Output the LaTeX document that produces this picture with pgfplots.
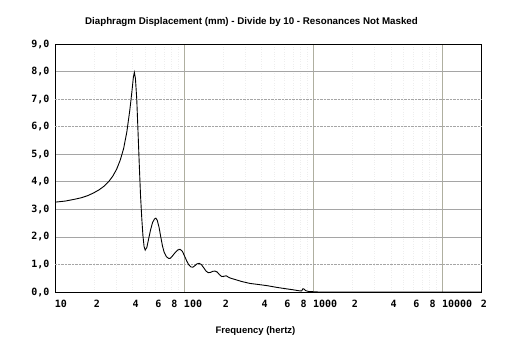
\documentclass[border=0pt]{standalone}
\usepackage{pgfplots}
\pgfplotsset{compat=1.18}
\usepackage{fontspec}
\setmainfont{Liberation Sans}
\newfontfamily\tickfont{DejaVu Sans Mono}
\definecolor{gridgray}{RGB}{165,165,165}
\definecolor{vgrid}{RGB}{175,175,160}
\definecolor{pinkdot}{RGB}{195,175,190}
\begin{document}
\begin{tikzpicture}
\path[use as bounding box, fill=white] (0pt,0pt) rectangle (511pt,352pt);
\node[font=\fontsize{9.75}{11}\selectfont\bfseries] at (251.5pt,330pt) {Diaphragm Displacement (mm) - Divide by 10 - Resonances Not Masked};
\node[font=\fontsize{9.5}{11}\selectfont\bfseries] at (255.5pt,21pt) {Frequency (hertz)};
\begin{axis}[
  at={(55pt,60pt)}, anchor=south west,
  scale only axis, width=426pt, height=248pt,
  xmode=log, xmin=10, xmax=20000, ymin=0, ymax=9,
  axis line style={black, line width=0.8pt},
  major tick length=0pt, minor tick length=0pt,
  xtick={10,100,1000,10000}, xticklabels={10,100,1000,10000},
  extra x ticks={20,40,60,80,200,400,600,800,2000,4000,6000,8000,20000},
  extra x tick labels={2,4,6,8,2,4,6,8,2,4,6,8,2},
  extra x tick style={grid=none},
  minor xtick={20,30,40,50,60,70,80,90,200,300,400,500,600,700,800,900,2000,3000,4000,5000,6000,7000,8000,9000},
  xmajorgrids, xminorgrids,
  major x grid style={vgrid, line width=0.7pt},
  minor x grid style={gray!13, dotted, line width=0.6pt},
  ytick={0,2,3,4,5,8,9},
  extra y ticks={1,6,7},
  extra y tick style={grid style={pinkdot, densely dotted, line width=0.8pt}},
  ymajorgrids,
  major y grid style={gridgray, line width=0.7pt},
  xticklabel style={font=\fontsize{10}{11}\selectfont\tickfont\bfseries, anchor=north west, xshift=-3.6pt, yshift=-5pt},
  yticklabel style={font=\fontsize{10}{11}\selectfont\tickfont\bfseries, xshift=-2pt},
  yticklabel={\pgfmathprintnumber[fixed, fixed zerofill, precision=1, use comma, assume math mode=true]{\tick}},
  clip=true,
]
\addplot[black, line width=0.9pt] coordinates {
(10,3.26) (12,3.30) (14,3.36) (16,3.42) (18,3.50) (20,3.60) (22,3.71) (24,3.84)
(26,4.00) (28,4.20) (30,4.45) (32,4.78) (34,5.20) (36,5.80) (38,6.60) (39.5,7.30)
(40.5,7.80) (41.2,7.97) (42,7.75) (43,7.00) (44,5.80) (45,4.60) (46,3.50) (47,2.70)
(48,2.05) (49,1.65) (50,1.52) (51.5,1.62) (53,1.90) (55,2.25) (57,2.52) (59,2.65)
(60.5,2.68) (62,2.60) (64,2.35) (66,2.00) (68,1.68) (70,1.45) (73,1.28) (76,1.22)
(78,1.22) (81,1.30) (85,1.42) (89,1.52) (93,1.55) (97,1.48) (101,1.30) (105,1.12)
(109,0.98) (113,0.91) (117,0.90) (121,0.95) (126,1.02) (131,1.04) (136,1.00) (142,0.88)
(148,0.76) (154,0.70) (160,0.71) (167,0.75) (174,0.76) (181,0.72) (188,0.63) (196,0.56)
(204,0.57) (212,0.59) (220,0.54) (230,0.50) (250,0.45) (280,0.38) (325,0.31) (380,0.27)
(440,0.23) (520,0.17) (590,0.13) (700,0.08) (790,0.04) (815,0.04) (835,0.12) (855,0.10)
(875,0.05) (920,0.02) (1000,0.01) (1100,0.0) (20000,0.0)
};
\end{axis}
\end{tikzpicture}
\end{document}
